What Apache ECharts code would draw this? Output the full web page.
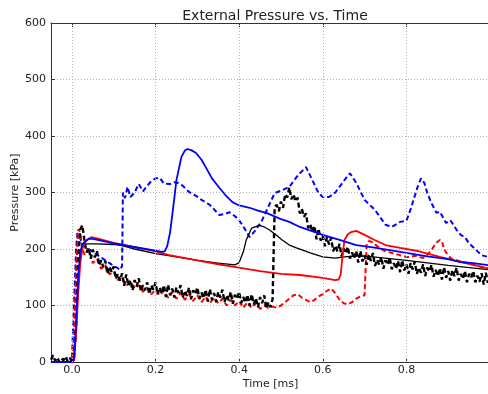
<!DOCTYPE html>
<html>
<head>
<meta charset="utf-8">
<script src="https://cdn.jsdelivr.net/npm/echarts@6/dist/echarts.min.js"></script>
<style>html,body{margin:0;padding:0;background:#fff}#c{width:488px;height:394px}</style>
</head>
<body>
<div id="c"></div>
<script>
// ---- Data ----
const title = "External Pressure vs. Time";
const xName = "Time [ms]";
const yName = "Pressure [kPa]";
const xTicks = [0.0, 0.2, 0.4, 0.6, 0.8];
const yTicks = [0, 100, 200, 300, 400, 500, 600];

// Experiment 1 (black dashed, noisy)
const expBlackT = [-0.050,-0.045,-0.040,-0.035,-0.030,-0.025,-0.020,-0.015,-0.010,-0.005,0.000,0.005,0.010,0.015,0.020,0.025,
0.030,0.035,0.040,0.045,0.050,0.055,0.060,0.065,0.070,0.075,0.080,0.085,0.090,0.095,0.100,0.105,0.110,0.115,0.120,0.125,0.130,0.135,0.140,0.145,
0.150,0.155,0.160,0.165,0.170,0.175,0.180,0.185,0.190,0.195,0.200,0.205,0.210,0.215,0.220,0.225,0.230,0.235,0.240,0.245,
0.250,0.255,0.260,0.265,0.270,0.275,0.280,0.285,0.290,0.295,0.300,0.305,0.310,0.315,0.320,0.325,0.330,0.335,0.340,0.345,
0.350,0.355,0.360,0.365,0.370,0.375,0.380,0.385,0.390,0.395,0.400,0.405,0.410,0.415,0.420,0.425,0.430,0.435,0.440,0.445,
0.450,0.455,0.460,0.465,0.470,0.475,0.480,0.485,0.490,0.495,0.500,0.505,0.510,0.515,0.520,0.525,0.530,0.535,0.540,0.545,
0.550,0.555,0.560,0.565,0.570,0.575,0.580,0.585,0.590,0.595,0.600,0.605,0.610,0.615,0.620,0.625,0.630,0.635,0.640,0.645,
0.650,0.655,0.660,0.665,0.670,0.675,0.680,0.685,0.690,0.695,0.700,0.705,0.710,0.715,0.720,0.725,0.730,0.735,0.740,0.745,
0.750,0.755,0.760,0.765,0.770,0.775,0.780,0.785,0.790,0.795,0.800,0.805,0.810,0.815,0.820,0.825,0.830,0.835,0.840,0.845,
0.850,0.855,0.860,0.865,0.870,0.875,0.880,0.885,0.890,0.895,0.900,0.905,0.910,0.915,0.920,0.925,0.930,0.935,0.940,0.945,
0.950,0.955,0.960,0.965,0.970,0.975,0.980,0.985,0.990,0.995];
const expBlackP = [4,12,2,8,0,6,3,10,1,7,2,5,60,180,235,242,
215,194,202,183,199,185,196,171,180,168,179,156,169,159,169,147,156,144,157,135,155,135,145,127,
145,134,148,125,136,127,141,120,136,128,141,120,132,121,136,115,137,118,130,114,
132,122,136,114,126,117,132,111,127,120,132,112,123,113,128,107,129,110,122,106,
124,114,128,106,118,109,124,103,119,112,124,104,115,105,119,99,120,102,113,97,
115,104,118,95,106,97,111,275,278,267,284,273,297,291,309,288,297,284,291,263,
271,257,263,237,244,230,241,217,236,215,224,205,221,208,220,196,206,196,209,187,
201,192,204,183,194,183,197,176,197,178,189,172,190,179,193,170,181,172,186,165,
180,172,185,164,175,165,179,159,180,162,173,156,175,164,178,156,167,158,173,152,
167,160,172,151,163,152,166,146,168,149,161,144,163,152,167,144,156,147,161,141,
156,149,161,141,153,142,157,137,158,140];

// Experiment 2 (red dashed)
const expRedT = [-0.05,0.0,0.005,0.01,0.015,0.02,0.025,0.03,0.04,0.05,0.06,0.07,0.08,0.09,0.10,0.11,0.12,0.13,0.14,0.15,
0.16,0.17,0.18,0.19,0.20,0.21,0.22,0.23,0.24,0.25,0.26,0.27,0.28,0.29,0.30,0.31,0.32,0.33,0.34,0.35,
0.36,0.37,0.38,0.39,0.40,0.41,0.42,0.43,0.44,0.45,0.46,0.47,0.48,0.49,0.50,0.51,0.52,0.53,0.54,0.55,
0.56,0.57,0.58,0.59,0.60,0.61,0.62,0.63,0.64,0.65,0.66,0.67,0.68,0.69,0.70,0.705,0.71,0.72,0.73,0.74,
0.75,0.76,0.77,0.78,0.79,0.80,0.81,0.82,0.83,0.84,0.85,0.86,0.87,0.88,0.885,0.89,0.90,0.91,0.92,0.93,
0.94,0.95,0.96,0.97,0.98,0.99,1.0];
const expRedP = [0,0,40,160,235,230,200,190,200,175,182,165,172,155,160,145,150,135,142,130,
136,124,132,120,128,118,126,114,124,112,122,110,120,108,118,106,116,104,114,104,
112,100,110,100,108,96,106,96,104,94,100,96,98,96,100,106,112,118,120,114,
110,106,110,116,120,126,130,122,110,104,102,106,112,116,118,210,214,212,205,200,
196,194,192,190,188,186,186,188,186,184,190,198,210,216,214,200,188,182,180,178,
176,174,172,170,168,166,165];

// Experiment 3 (blue dashed)
const expBlueT = [-0.05,-0.005,0.0,0.005,0.01,0.013,0.018,0.025,0.03,0.04,0.05,0.06,0.07,0.08,0.09,0.10,0.11,0.115,0.12,0.122,
0.127,0.133,0.14,0.15,0.16,0.17,0.18,0.19,0.2,0.21,0.22,0.235,0.245,0.25,0.265,0.28,0.295,0.31,0.33,0.353,
0.365,0.377,0.39,0.4,0.41,0.425,0.44,0.455,0.47,0.485,0.503,0.52,0.54,0.56,0.575,0.59,0.6,0.615,0.63,0.64,
0.655,0.665,0.68,0.7,0.725,0.75,0.765,0.785,0.8,0.81,0.826,0.835,0.843,0.85,0.86,0.872,0.88,0.895,0.905,0.92,
0.93,0.94,0.95,0.967,0.98,0.995];
const expBlueP = [0,0,5,100,200,228,222,210,205,200,195,190,185,180,175,170,166,163,170,300,
290,310,292,300,315,302,312,320,325,326,316,315,318,318,312,301,295,287,278,260,
262,265,258,251,240,221,234,251,275,299,304,310,330,345,322,299,292,292,300,310,
325,334,317,287,269,243,239,248,250,270,308,325,317,299,281,264,266,246,251,234,
225,221,210,198,189,186];

// Simulation A (blue solid)
const simBlueT = [-0.05,0.0,0.005,0.01,0.015,0.02,0.025,0.03,0.04,0.05,0.07,0.1,0.145,0.2,0.215,0.222,0.228,0.235,0.245,0.25,
0.262,0.27,0.276,0.285,0.297,0.31,0.32,0.335,0.353,0.37,0.384,0.4,0.425,0.445,0.465,0.5,0.52,0.545,0.6,0.64,
0.68,0.72,0.76,0.8,0.85,0.9,0.927,0.96,1.0];
const simBlueP = [0,0,5,70,150,195,208,212,218,218,215,210,204,197,195,196,205,230,290,322,
363,374,377,375,370,358,345,325,308,293,283,277,273,268,264,253,248,239,225,216,
207,203,198,193,187,182,177,175,171];

// Simulation B (red solid)
const simRedT = [-0.05,0.0,0.005,0.01,0.015,0.02,0.025,0.03,0.035,0.047,0.06,0.08,0.1,0.145,0.2,0.233,0.3,0.35,0.392,0.45,
0.5,0.545,0.6,0.63,0.638,0.643,0.647,0.652,0.66,0.668,0.68,0.7,0.724,0.75,0.785,0.83,0.88,0.93,0.96,1.0];
const simRedP = [0,0,3,50,120,175,200,210,216,221,219,215,211,204,196,189,180,173,168,161,
156,154,149,145,146,155,186,216,226,230,232,225,216,207,202,196,186,177,172,165];

// Simulation C (black solid)
const simBlackT = [-0.05,0.0,0.005,0.01,0.015,0.02,0.026,0.06,0.1,0.12,0.15,0.2,0.25,0.3,0.35,0.39,0.4,0.41,0.417,0.43,
0.448,0.46,0.472,0.49,0.503,0.52,0.537,0.57,0.6,0.63,0.652,0.68,0.72,0.8,0.9,1.0];
const simBlackP = [0,0,3,60,140,190,209,209,208,206,200,192,186,180,175,172,176,195,216,237,
242,239,234,224,216,207,202,193,186,184,186,188,186,180,171,163];

// ---- Chart ----
function pairs(t, p) { return t.map((v, i) => [v, p[i]]); }

const chart = echarts.init(document.getElementById('c'), null, {renderer: 'canvas'});
const font = 'DejaVu Sans';
const dashed = [5, 3];
const txt = '#222';
const axisCol = '#333';
const gridCol = '#b4b4b4';

function lineSeries(t, p, color, width, type) {
  return {
    type: 'line', data: pairs(t, p), showSymbol: false, symbol: 'none',
    lineStyle: {color: color, width: width, type: type}, clip: true, silent: true
  };
}

const xCommon = {
  type: 'value', min: -0.05, max: 1.0, interval: 0.2,
  splitLine: {show: false}
};

chart.setOption({
  animation: false,
  backgroundColor: '#fff',
  title: {
    text: title, left: 270, top: 4, textAlign: 'center',
    textStyle: {fontFamily: font, fontSize: 14, fontWeight: 'normal', color: txt}
  },
  grid: {left: 51, top: 23, width: 439, height: 339, containLabel: false, outerBoundsMode: 'none'},
  xAxis: [
    Object.assign({}, xCommon, {
      position: 'bottom', name: xName, nameLocation: 'middle', nameGap: 17,
      nameMoveOverlap: false,
      nameTextStyle: {fontFamily: font, fontSize: 11, color: txt},
      axisLine: {show: true, onZero: false, lineStyle: {color: axisCol, width: 1}},
      axisTick: {show: true, inside: true, length: 4, customValues: xTicks, lineStyle: {color: axisCol}},
      axisLabel: {fontFamily: font, fontSize: 11, color: txt, margin: 3,
        customValues: xTicks, formatter: v => v.toFixed(1)}
    }),
    Object.assign({}, xCommon, {
      position: 'top', gridIndex: 0,
      axisLine: {show: true, onZero: false, lineStyle: {color: axisCol, width: 1}},
      axisTick: {show: true, inside: true, length: 4, customValues: xTicks, lineStyle: {color: axisCol}},
      axisLabel: {show: false}
    })
  ],
  yAxis: {
    type: 'value', min: 0, max: 600, interval: 100,
    name: yName, nameLocation: 'middle', nameGap: 30, nameMoveOverlap: false,
    nameTextStyle: {fontFamily: font, fontSize: 11, color: txt},
    axisLine: {show: true, onZero: false, lineStyle: {color: axisCol, width: 1}},
    axisTick: {show: true, inside: true, length: 4, lineStyle: {color: axisCol}},
    axisLabel: {fontFamily: font, fontSize: 11, color: txt, margin: 5},
    splitLine: {show: true, lineStyle: {color: gridCol, type: [1, 2], width: 1}}
  },
  series: [
    {
      type: 'line', data: [], xAxisIndex: 0,
      markLine: {
        silent: true, symbol: 'none', label: {show: false},
        lineStyle: {color: gridCol, type: [1, 2], width: 1},
        data: xTicks.map(v => ({xAxis: v}))
      }
    },
    lineSeries(expBlueT, expBlueP, '#0000ff', 2, dashed),
    lineSeries(expRedT, expRedP, '#ff0000', 2, dashed),
    lineSeries(expBlackT, expBlackP, '#000000', 2.4, dashed),
    lineSeries(simBlackT, simBlackP, '#000000', 1.3, 'solid'),
    lineSeries(simRedT, simRedP, '#ff0000', 1.8, 'solid'),
    lineSeries(simBlueT, simBlueP, '#0000ff', 1.8, 'solid')
  ]
});
</script>
</body>
</html>
